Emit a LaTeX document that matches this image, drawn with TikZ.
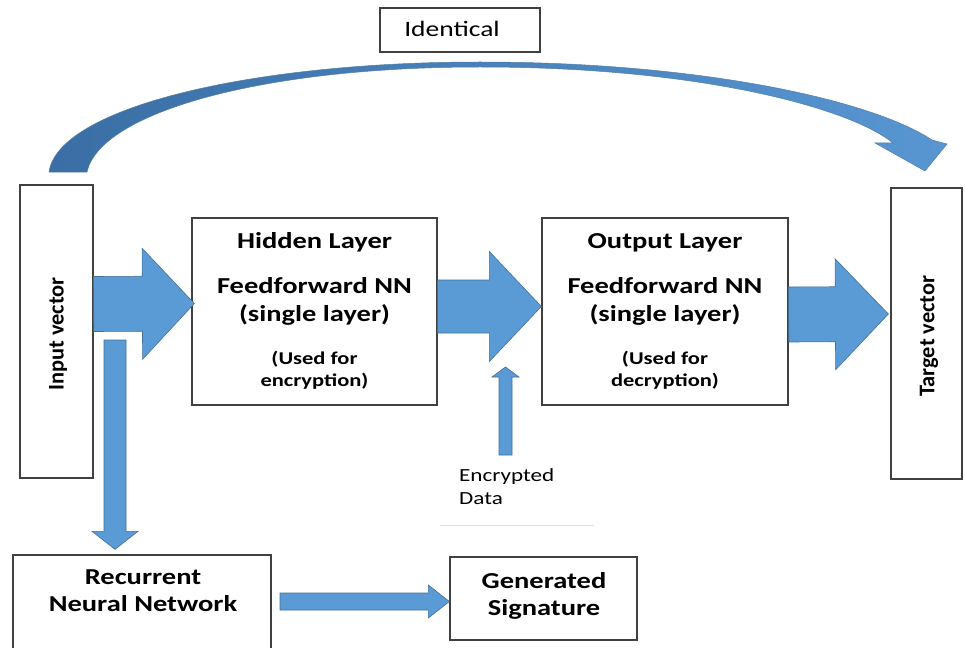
\documentclass[tikz,border=0pt]{standalone}
\usepackage{fontspec}
\setmainfont[FakeStretch=1.25]{Carlito}
\newfontfamily\rotfont{Carlito}
\usetikzlibrary{calc}
\definecolor{abfill}{RGB}{91,155,213}
\definecolor{abedge}{RGB}{65,113,156}
\definecolor{boxline}{RGB}{64,64,64}
\definecolor{curvL}{RGB}{58,110,165}
\definecolor{curvR}{RGB}{88,150,210}
\tikzset{
  box/.style={draw=boxline, line width=1.3pt, fill=white, inner sep=0pt},
  blockarrow/.style={fill=abfill, draw=abedge, line width=0.6pt, line join=miter},
  bigtxt/.style={font=\fontsize{22.8}{27}\selectfont\bfseries, anchor=base, inner sep=0pt},
  smalltxt/.style={font=\fontsize{18}{21}\selectfont\bfseries, anchor=base, inner sep=0pt},
  plaintxt/.style={font=\fontsize{18.5}{21}\selectfont, anchor=base west, inner sep=0pt},
  rottxt/.style={font=\rotfont\bfseries\fontsize{22.4}{26}\selectfont, inner sep=0pt, rotate=90},
}
\newcommand\blockarrow[5]{%
  \coordinate (ba-b) at ($(#2)!#5!(#1)$);
  \path[blockarrow] ($(#1)!#3!90:(#2)$) -- ($(ba-b)!#3!90:(#2)$) -- ($(ba-b)!#4!90:(#2)$)
    -- (#2) -- ($(ba-b)!#4!-90:(#2)$) -- ($(ba-b)!#3!-90:(#2)$) -- ($(#1)!#3!-90:(#2)$) -- cycle;
}
\begin{document}
\begin{tikzpicture}[x=1pt,y=-1pt]
\clip (0,0) rectangle (965,647);
\fill[white] (0,0) rectangle (965,647);

% boxes
\node[box, minimum width=160pt, minimum height=44pt] (ident) at (460,30) {};
\node[box, minimum width=73pt, minimum height=293pt] (in) at (56.5,331.5) {};
\node[box, minimum width=245pt, minimum height=187pt] (hid) at (314.5,311.5) {};
\node[box, minimum width=246pt, minimum height=187pt] (out) at (665,311.5) {};
\node[box, minimum width=71pt, minimum height=291pt] (tgt) at (926.5,333.5) {};
\node[box, minimum width=258pt, minimum height=110pt] (rnn) at (142,610) {};
\node[box, minimum width=187pt, minimum height=83pt] (gen) at (543.5,598.5) {};

% texts
\node[font=\fontsize{22}{26}\selectfont, anchor=base, inner sep=0pt] (identT) at (452,37) {Identical};
\node[rottxt] (inT) at (58,334) {Input vector};
\node[rottxt] (tgtT) at (929,336) {Target vector};

\node[bigtxt] (hid1) at (314.5,248) {Hidden Layer};
\node[bigtxt] (hid2) at (314.5,293) {Feedforward NN};
\node[bigtxt] (hid3) at (314.5,321) {(single layer)};
\node[smalltxt] (hid4) at (314.5,364) {(Used for};
\node[smalltxt] (hid5) at (314.5,386) {encryption)};

\node[bigtxt] (out1) at (665,248) {Output Layer};
\node[bigtxt] (out2) at (665,293) {Feedforward NN};
\node[bigtxt] (out3) at (665,321) {(single layer)};
\node[smalltxt] (out4) at (665,364) {(Used for};
\node[smalltxt] (out5) at (665,386) {decryption)};

\node[bigtxt] (rnn1) at (143,584) {Recurrent};
\node[bigtxt] (rnn2) at (143,611) {Neural Network};
\node[bigtxt] (gen1) at (544,588) {Generated};
\node[bigtxt] (gen2) at (544,615) {Signature};

\node[plaintxt] (enc1) at (459,481) {Encrypted};
\node[plaintxt] (enc2) at (459,504) {Data};
\draw[black!12, line width=0.8pt] (440,525) -- (594,525);

% block arrows
\blockarrow{[yshift=27.5pt]in.east}{[xshift=3pt,yshift=8pt]hid.west}{27.5pt}{55.5pt}{52pt}
\blockarrow{[yshift=5pt]hid.east}{[yshift=5pt]out.west}{26.5pt}{55pt}{52pt}
\blockarrow{[yshift=-3pt]out.east}{[xshift=-2pt,yshift=19.5pt]tgt.west}{27.5pt}{55.5pt}{53pt}
\coordinate (encS) at (505.5,455);
\coordinate (encTip) at (505.5,367);
\blockarrow{encS}{encTip}{6.5pt}{13.5pt}{10pt}
\coordinate (downS) at (115,340);
\blockarrow{downS}{[xshift=-27pt,yshift=5pt]rnn.north}{11pt}{23pt}{18pt}
\coordinate (sigS) at (280,601.5);
\blockarrow{sigS}{[yshift=-3pt]gen.west}{8.5pt}{16.5pt}{21pt}

% curved arrow
\shadedraw[left color=curvL, right color=curvR, draw=abedge!90, line width=0.5pt, line join=miter]
  (49,172) .. controls (58,108) and (250,62) .. (480,62)
  .. controls (700,62) and (872,100) .. (932,140)
  -- (947,144) -- (925,171) -- (875,143) -- (893,143)
  .. controls (850,108) and (700,67) .. (480,67)
  .. controls (260,67) and (100,113) .. (87,172) -- cycle;
\end{tikzpicture}
\end{document}
